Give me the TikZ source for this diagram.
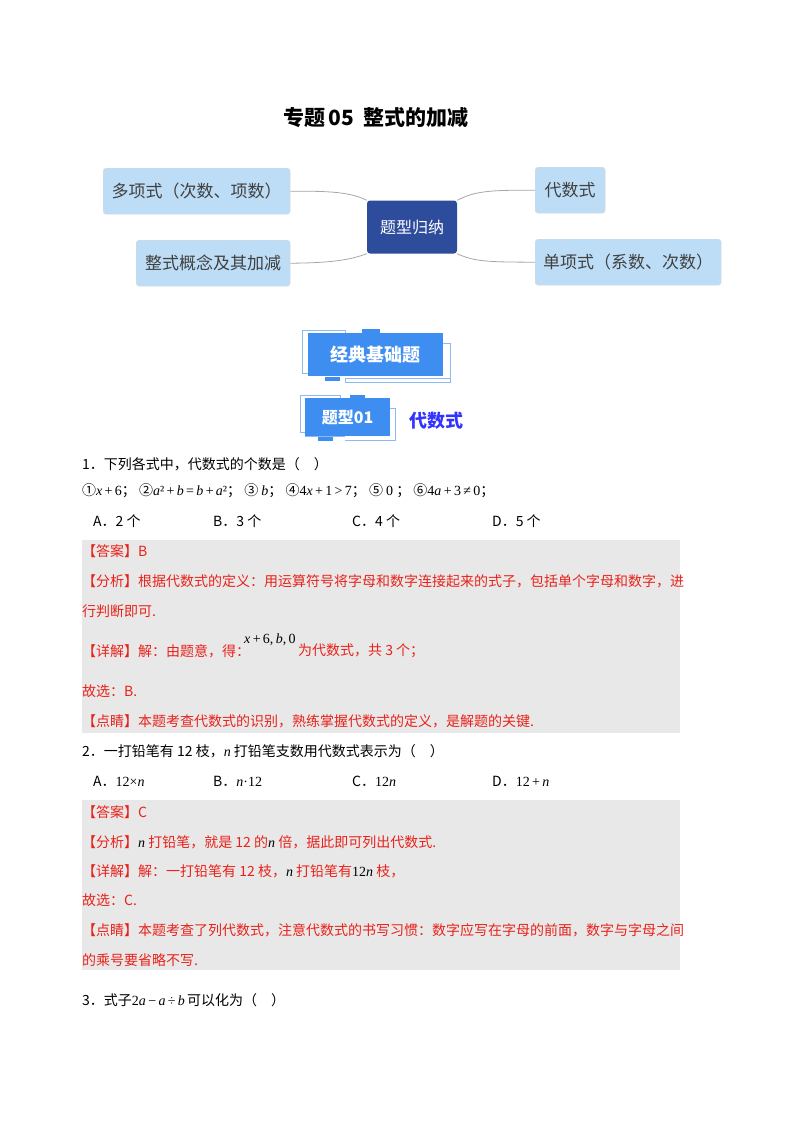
\documentclass[tikz,border=0pt]{standalone}
\usepackage{fontspec}
\setmainfont{Noto Sans CJK SC}
\newfontfamily\mathish{Liberation Serif}
\newcommand\mv[1]{{\mathish\itshape #1}}
\newcommand\mr[1]{{\mathish #1}}
\begin{document}
\begin{tikzpicture}[x=1pt,y=-1pt,
  leaf/.style={draw=black!15,fill=leafc,rounded corners=3pt,inner sep=0pt,anchor=north west},
  lt/.style={font=\fontsize{17}{18}\selectfont,text=black!75},
  tx/.style={anchor=west,inner sep=0pt,font=\fontsize{14}{15}\selectfont},
  rd/.style={tx,text=ansred},
  conn/.style={draw=black!35,line width=0.8pt}]
\definecolor{leafc}{HTML}{BDDDF6}
\definecolor{ansred}{HTML}{E8221A}
\definecolor{bnr}{HTML}{3D8EF0}
\definecolor{hub}{HTML}{2E4C9C}
\useasboundingbox (0,0) rectangle (800,1132);
\node[font=\fontsize{21}{23}\selectfont\bfseries] (title) at (376,118) {专题\,05\ \ 整式的加减};
% mind map
\node[leaf,minimum width=187,minimum height=46] (l1) at (103,168) {};
\node[lt] at (l1.center) {多项式（次数、项数）};
\node[leaf,minimum width=154,minimum height=46] (l2) at (136,240) {};
\node[lt] at (l2.center) {整式概念及其加减};
\node[leaf,minimum width=70,minimum height=46] (r1) at (535,167) {};
\node[lt] at (r1.center) {代数式};
\node[leaf,minimum width=186,minimum height=46] (r2) at (535,239) {};
\node[lt] at (r2.center) {单项式（系数、次数）};
\node[fill=hub,rounded corners=3pt,minimum width=90,minimum height=53,text=white,font=\fontsize{16}{17}\selectfont] (hubn) at (412,227) {题型归纳};
\draw[conn] (l1.east) .. controls (330,191) and (350,192) .. (hubn.north west);
\draw[conn] (l2.east) .. controls (330,263) and (350,260) .. (hubn.south west);
\draw[conn] (r1.west) .. controls (490,190) and (475,191) .. (hubn.north east);
\draw[conn] (r2.west) .. controls (490,262) and (475,262) .. (hubn.south east);
% banner 1
\draw[bnr!60,line width=0.8pt] (302,330) rectangle (345,373);
\draw[bnr!60,line width=0.8pt] (345,378) rectangle (450,382) ;
\draw[bnr!60,line width=0.8pt] (443,343) -- (450,343) -- (450,382);
\fill[bnr] (362,329) rectangle (380,333);
\fill[bnr] (325,377) rectangle (340,381);
\node[fill=bnr,minimum width=135,minimum height=43,anchor=north west,inner sep=0pt] (b1) at (308,333) {};
\node[text=white,font=\fontsize{18}{19}\selectfont\bfseries] at (b1.center) {经典基础题};
% banner 2
\draw[bnr!60,line width=0.8pt] (300,395) rectangle (340,432);
\draw[bnr!60,line width=0.8pt] (305,436) -- (345,436);
\draw[bnr!60,line width=0.8pt] (390,408) -- (395,408) -- (395,440) -- (345,440);
\fill[bnr] (350,395) rectangle (365,399);
\fill[bnr] (318,437) rectangle (333,441);
\node[fill=bnr,minimum width=85,minimum height=38,anchor=north west,inner sep=0pt] (b2) at (305,398) {};
\node[text=white,font=\fontsize{16}{17}\selectfont\bfseries] at (b2.center) {题型01};
\node[text=blue!80!white,font=\fontsize{18}{19}\selectfont\bfseries,anchor=west] (b2t) at (406,421) {代数式};
% Q1
\node[tx] (q1) at (82,464) {1．下列各式中，代数式的个数是（\quad）};
\node[tx] (q1f) at (82,491) {①\mv{x}\mr{\,+\,6}；\ ②\mv{a}\mr{²\,+\,}\mv{b}\mr{\,=\,}\mv{b}\mr{\,+\,}\mv{a}\mr{²}；\ ③ \mv{b}；\ ④\mr{4}\mv{x}\mr{\,+\,1\,>\,7}；\ ⑤ \mr{0} ；\ ⑥\mr{4}\mv{a}\mr{\,+\,3\,≠\,0}；};
\node[tx] (a1) at (93,521) {A．2 个};
\node[tx] (b1o) at (213,521) {B．3 个};
\node[tx] (c1) at (352,521) {C．4 个};
\node[tx] (d1) at (492,521) {D．5 个};
\fill[black!9] (82,540) rectangle (680,733);
\node[rd] at (82,551) {【答案】B};
\node[rd] at (82,581) {【分析】根据代数式的定义：用运算符号将字母和数字连接起来的式子，包括单个字母和数字，进};
\node[rd] at (82,611) {行判断即可.};
\node[rd] at (82,651) {【详解】解：由题意，得：};
\node[tx] at (244,640) {\mv{x}\mr{\,+\,6,\,}\mv{b}\mr{,\,0}};
\node[rd] at (298,651) {为代数式，共 3 个；};
\node[rd] at (82,691) {故选：B.};
\node[rd] at (82,721) {【点睛】本题考查代数式的识别，熟练掌握代数式的定义，是解题的关键.};
% Q2
\node[tx] (q2) at (82,751) {2．一打铅笔有 12 枝，\mv{n}\ 打铅笔支数用代数式表示为（\quad）};
\node[tx] at (93,781) {A．\mr{12×}\mv{n}};
\node[tx] at (213,781) {B．\mv{n}\mr{·12}};
\node[tx] at (352,781) {C．\mr{12}\mv{n}};
\node[tx] at (492,781) {D．\mr{12\,+\,}\mv{n}};
\fill[black!9] (82,800) rectangle (680,970);
\node[rd] at (82,812) {【答案】C};
\node[rd] at (82,842) {【分析】{\color{black}\mv{n}}\ 打铅笔，就是 12 的{\color{black}\mv{n}}\ 倍，据此即可列出代数式.};
\node[rd] at (82,871) {【详解】解：一打铅笔有 12 枝，{\color{black}\mv{n}}\ 打铅笔有{\color{black}\mr{12}\mv{n}}\ 枝，};
\node[rd] at (82,900) {故选：C.};
\node[rd] at (82,930) {【点睛】本题考查了列代数式，注意代数式的书写习惯：数字应写在字母的前面，数字与字母之间};
\node[rd] at (82,960) {的乘号要省略不写.};
% Q3
\node[tx] (q3) at (82,1000) {3．式子\mr{2}\mv{a}\mr{\,−\,}\mv{a}\mr{\,÷\,}\mv{b}\,可以化为（\quad）};
\end{tikzpicture}
\end{document}
